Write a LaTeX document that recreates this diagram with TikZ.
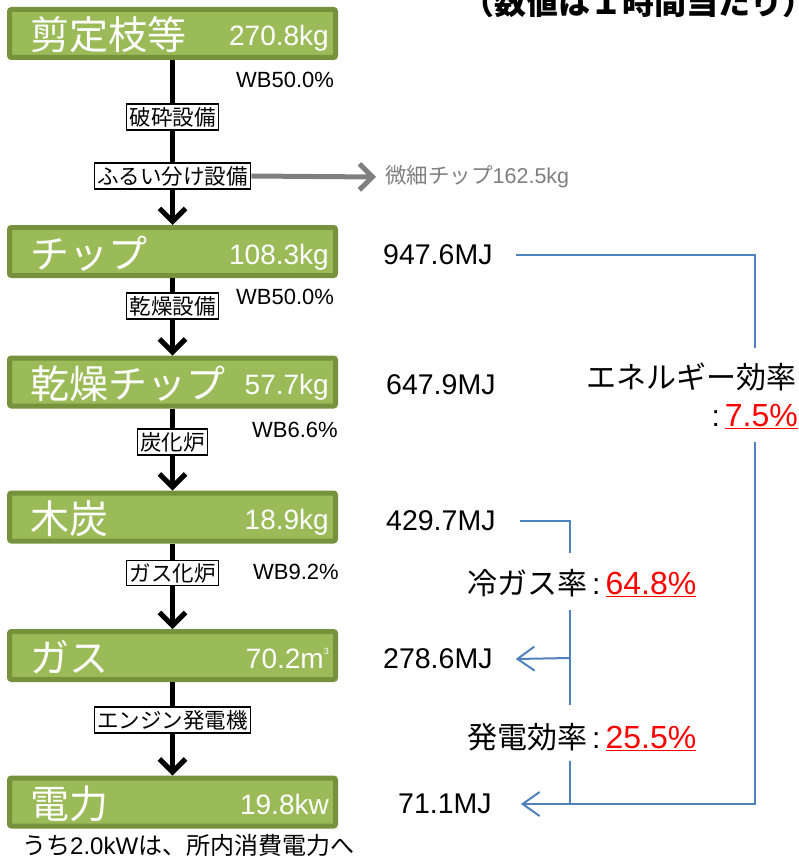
\documentclass[tikz,border=0pt]{standalone}
\usepackage{fontspec}
\setmainfont{Liberation Sans}
\newfontfamily\jp{Noto Sans CJK JP}
\usetikzlibrary{arrows.meta}
\definecolor{boxfill}{HTML}{9BBB59}
\definecolor{boxline}{HTML}{76923C}
\definecolor{effblue}{HTML}{4F81BD}
\definecolor{sidegray}{HTML}{7F7F7F}
\definecolor{effred}{HTML}{FF0000}
\newcommand{\fs}[1]{\fontsize{#1}{#1}\selectfont}
\newcommand{\redpct}[1]{\textcolor{effred}{\fs{32}\underline{#1}}}
\tikzset{
  gbox/.style={fill=boxfill, draw=boxline, line width=5pt, minimum width=326pt, minimum height=48pt, rounded corners=2pt, inner sep=0pt},
  bname/.style={text=white, font=\jp\fs{39}, anchor=base west, inner sep=0pt},
  qty/.style={text=white, font=\fs{28}, anchor=base east, inner sep=0pt},
  lbl/.style={draw=black, line width=1.3pt, fill=white, font=\jp\fs{21.5}, inner sep=3pt},
  wb/.style={font=\fs{22}, anchor=west, inner sep=0pt},
  mj/.style={font=\fs{28.5}, anchor=west, inner sep=0pt},
  eff/.style={font=\fs{30}, inner sep=0pt},
  flow/.style={line width=5pt, -{Straight Barb[length=13pt,width=26pt]}},
  gflow/.style={draw=sidegray, line width=5pt, -{Straight Barb[length=13pt,width=26pt]}},
  bline/.style={draw=effblue, line width=2pt},
  barrow/.style={draw=effblue, line width=2pt, -{Straight Barb[length=17pt,width=24pt]}}
}
\begin{document}
\begin{tikzpicture}[x=1pt,y=-1pt]
\useasboundingbox (0,0) rectangle (798,861);
% title (partly cut off at top, as in the reference)
\node[font=\jp\bfseries\fs{32}, anchor=base west, inner sep=0pt] (title) at (462,15) {（数値は１時間当たり）};
% green boxes
\node[gbox] (b1) at (172.5,33.5) {};
\node[gbox] (b2) at (172.5,251.5) {};
\node[gbox] (b3) at (172.5,382) {};
\node[gbox] (b4) at (172.5,517) {};
\node[gbox] (b5) at (172.5,655.5) {};
\node[gbox] (b6) at (172.5,802) {};
\node[bname] (n1) at (30,50) {剪定枝等};
\node[qty] (q1) at (329,46) {270.8kg};
\node[bname] (n2) at (30,268) {チップ};
\node[qty] (q2) at (329,264) {108.3kg};
\node[bname] (n3) at (30,398.5) {乾燥チップ};
\node[qty] (q3) at (329,394.5) {57.7kg};
\node[bname] (n4) at (30,533.5) {木炭};
\node[qty] (q4) at (329,529.5) {18.9kg};
\node[bname] (n5) at (30,672) {ガス};
\node[qty] (q5) at (329,668) {70.2m\raisebox{0.9ex}{\fs{9}3}};
\node[bname] (n6) at (30,818.5) {電力};
\node[qty] (q6) at (329,814.5) {19.8kw};
% flow arrows
\draw[flow] (b1) -- (b2);
\draw[flow] (b2) -- (b3);
\draw[flow] (b3) -- (b4);
\draw[flow] (b4) -- (b5);
\draw[flow] (b5) -- (b6);
% process labels
\node[lbl] (l1) at (172.5,117) {破砕設備};
\node[lbl] (l2) at (172.5,176) {ふるい分け設備};
\node[lbl] (l3) at (172.5,306) {乾燥設備};
\node[lbl] (l4) at (172.5,442) {炭化炉};
\node[lbl] (l5) at (172.5,573) {ガス化炉};
\node[lbl] (l6) at (172.5,720) {エンジン発電機};
% side output
\node[font=\fs{21.5}, text=sidegray, anchor=west, inner sep=0pt] (side) at (385,177) {{\jp 微細チップ}162.5kg};
\draw[gflow] (l2.east) -- ([xshift=-9pt]side.west);
% water content
\node[wb] (w1) at (236,80) {WB50.0\%};
\node[wb] (w2) at (236,297) {WB50.0\%};
\node[wb] (w3) at (252,430) {WB6.6\%};
\node[wb] (w4) at (253,572) {WB9.2\%};
% energies
\node[mj] (m1) at (383,255) {947.6MJ};
\node[mj] (m2) at (386,385) {647.9MJ};
\node[mj] (m3) at (386,521) {429.7MJ};
\node[mj] (m4) at (383,659) {278.6MJ};
\node[mj] (m5) at (398,804) {71.1MJ};
% efficiencies
\node[eff, anchor=east] (ee) at (797,377) {\jp エネルギー効率};
\node[eff, anchor=east] (ev) at (798,417) {:\,\redpct{7.5\%}};
\node[eff, anchor=west] (cg) at (467,583) {{\jp 冷ガス率}\,:\,\redpct{64.8\%}};
\node[eff, anchor=west] (hd) at (467,737) {{\jp 発電効率}\,:\,\redpct{25.5\%}};
% blue connectors
\coordinate (eTop) at (755,348);
\coordinate (eBot) at (755,442);
\coordinate (cTop) at (570,553);
\coordinate (cBot) at (570,610);
\coordinate (cMid) at (570,658);
\coordinate (hTop) at (570,705);
\coordinate (hBot) at (570,761);
\coordinate (jn) at (570,805);
\draw[bline] ([xshift=23pt]m1.east) -| (eTop);
\draw[barrow] (eBot) |- ([xshift=29pt]m5.east);
\draw[bline] ([xshift=24pt]m3.east) -| (cTop);
\draw[bline] (cBot) -- (hTop);
\draw[barrow] (cMid) -- ([xshift=23pt]m4.east);
\draw[bline] (hBot) -- (jn);
% note
\node[font=\fs{24}, anchor=west, inner sep=0pt] (note) at (22,845) {{\jp うち}2.0kW{\jp は、所内消費電力へ}};
\end{tikzpicture}
\end{document}
